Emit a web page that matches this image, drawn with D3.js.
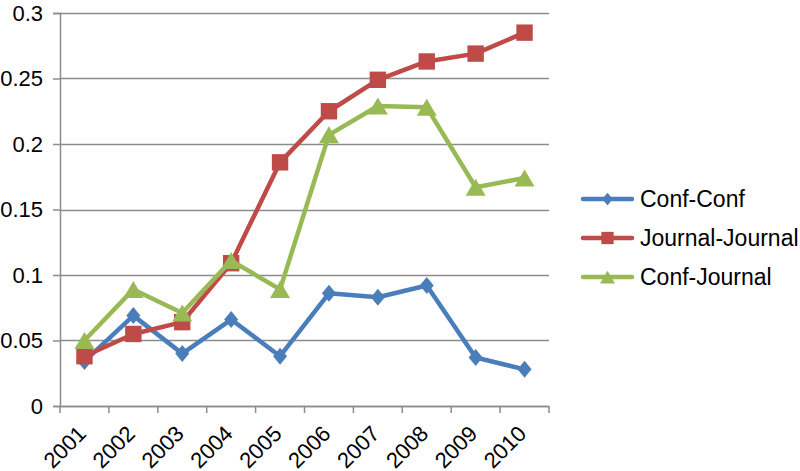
<!DOCTYPE html>
<html>
<head>
<meta charset="utf-8">
<script src="https://cdn.jsdelivr.net/npm/d3@7"></script>
<style>
  body { margin: 0; background: #fff; }
  text { font-family: "Liberation Sans", Arial, Helvetica, sans-serif; fill: #000; }
</style>
</head>
<body>
<div id="chart"></div>
<script>
// data
var years = ["2001", "2002", "2003", "2004", "2005", "2006", "2007", "2008", "2009", "2010"];
var confConf = [0.034, 0.069, 0.040, 0.066, 0.038, 0.086, 0.083, 0.092, 0.037, 0.028];
var journalJournal = [0.038, 0.055, 0.064, 0.109, 0.186, 0.225, 0.249, 0.263, 0.269, 0.285];
var confJournal = [0.050, 0.089, 0.071, 0.111, 0.089, 0.207, 0.229, 0.228, 0.167, 0.174];
var yTicks = [0, 0.05, 0.1, 0.15, 0.2, 0.25, 0.3];

var series = [
    { name: "Conf-Conf", values: confConf, color: "#4a7ebb", shape: "diamond" },
    { name: "Journal-Journal", values: journalJournal, color: "#be4b48", shape: "square" },
    { name: "Conf-Journal", values: confJournal, color: "#98b954", shape: "triangle" }
];

// marker shapes, drawn with a scale factor k (1 = chart, smaller in legend)
function shape(name, k) {
    return {
        draw: function(ctx) {
            if (name === "diamond") {
                var w = 7 * k, h = 8.5 * k;
                ctx.moveTo(0, -h); ctx.lineTo(w, 0); ctx.lineTo(0, h); ctx.lineTo(-w, 0); ctx.closePath();
            } else if (name === "square") {
                var s = 8.2 * k;
                ctx.rect(-s, -s, 2 * s, 2 * s);
            } else {
                var b = 10 * k, t = 8.5 * k;
                ctx.moveTo(0, -t); ctx.lineTo(b, t); ctx.lineTo(-b, t); ctx.closePath();
            }
        }
    };
}

// set the dimensions and margins of the graph
var margin = { top: 13, right: 251, bottom: 65, left: 60 },
    width = 800 - margin.left - margin.right,
    height = 471 - margin.top - margin.bottom;

var svg = d3.select("#chart")
    .append("svg")
    .attr("width", 800)
    .attr("height", 471)
    .append("g")
    .attr("transform", "translate(" + margin.left + "," + margin.top + ")");

var x = d3.scaleBand()
    .domain(years)
    .range([0, width]);

var y = d3.scaleLinear()
    .domain([0, 0.3])
    .range([height, 0]);

// gridlines
svg.append("g")
    .selectAll("line")
    .data(yTicks)
    .enter()
    .append("line")
    .attr("x1", 0)
    .attr("x2", width)
    .attr("y1", function(d) { return Math.round(y(d)) + 0.5; })
    .attr("y2", function(d) { return Math.round(y(d)) + 0.5; })
    .attr("stroke", "#8c8c8c")
    .attr("stroke-width", 1.5);

// Y axis
var yAxis = svg.append("g")
    .call(d3.axisLeft(y).tickValues(yTicks).tickSize(7).tickPadding(10)
        .tickFormat(function(d) { return d === 0 ? "0" : String(d); }));
yAxis.select(".domain").attr("stroke", "#8c8c8c").attr("stroke-width", 1.5);
yAxis.selectAll(".tick line").attr("stroke", "#8c8c8c").attr("stroke-width", 1.5);
yAxis.selectAll("text").style("font-size", "22px").attr("fill", "#000");

// X axis, ticks between categories
var xg = svg.append("g")
    .attr("transform", "translate(0," + height + ")");
xg.append("line")
    .attr("x1", 0).attr("x2", width)
    .attr("y1", 0.5).attr("y2", 0.5)
    .attr("stroke", "#8c8c8c").attr("stroke-width", 1.5);
xg.selectAll(".xt")
    .data(years.concat(["end"]))
    .enter()
    .append("line")
    .attr("class", "xt")
    .attr("x1", function(d, i) { return i * x.step(); })
    .attr("x2", function(d, i) { return i * x.step(); })
    .attr("y1", 0)
    .attr("y2", 7)
    .attr("stroke", "#8c8c8c").attr("stroke-width", 1.5);
xg.selectAll(".xl")
    .data(years)
    .enter()
    .append("text")
    .attr("class", "xl")
    .attr("text-anchor", "end")
    .attr("transform", function(d) {
        return "translate(" + (x(d) + x.bandwidth() / 2 + 3) + ",29) rotate(-45)";
    })
    .style("font-size", "22px")
    .text(function(d) { return d; });

var line = d3.line()
    .x(function(d, i) { return x(years[i]) + x.bandwidth() / 2; })
    .y(function(d) { return y(d); });

series.forEach(function(s) {
    svg.append("path")
        .datum(s.values)
        .attr("fill", "none")
        .attr("stroke", s.color)
        .attr("stroke-width", 4.5)
        .attr("stroke-linejoin", "round")
        .attr("d", line);

    svg.append("g")
        .selectAll("path")
        .data(s.values)
        .enter()
        .append("path")
        .attr("d", d3.symbol().type(shape(s.shape, 1)))
        .attr("fill", s.color)
        .attr("transform", function(d, i) {
            return "translate(" + (x(years[i]) + x.bandwidth() / 2) + "," + y(d) + ")";
        });
});

// legend
var legend = svg.append("g")
    .attr("transform", "translate(" + (583 - margin.left) + "," + (199 - margin.top) + ")");

series.forEach(function(s, i) {
    var row = legend.append("g").attr("transform", "translate(0," + (i * 39) + ")");
    row.append("line")
        .attr("x1", 0).attr("x2", 49)
        .attr("y1", 0).attr("y2", 0)
        .attr("stroke", s.color)
        .attr("stroke-width", 4.5)
        .attr("stroke-linecap", "round");
    row.append("path")
        .attr("d", d3.symbol().type(shape(s.shape, 0.75)))
        .attr("fill", s.color)
        .attr("transform", "translate(24.5,0)");
    row.append("text")
        .attr("x", 57)
        .attr("dy", "0.35em")
        .style("font-size", "23px")
        .text(s.name);
});
</script>
</body>
</html>
